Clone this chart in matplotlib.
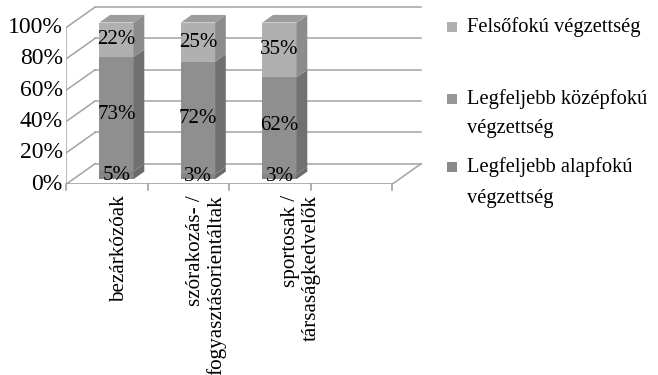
import matplotlib
matplotlib.use("Agg")
import matplotlib.pyplot as plt
from matplotlib.patches import Polygon, Rectangle

plt.rcParams['font.family'] = ['Liberation Serif', 'DejaVu Serif']

categories = ["bezárkózóak",
              "szórakozás- /\nfogyasztásorientáltak",
              "sportosak /\ntársaságkedvelők"]
alapfoku = [5, 3, 3]
kozepfoku = [73, 72, 62]
felsofoku = [22, 25, 35]
yticks = [0, 20, 40, 60, 80, 100]

legend_lines = [["Felsőfokú végzettség"],
                ["Legfeljebb középfokú", "végzettség"],
                ["Legfeljebb alapfokú", "végzettség"]]

# front / side colours, bottom to top segment
FRONT = ["#858585", "#8f8f8f", "#b0b0b0"]
SIDE = ["#6a6a6a", "#717171", "#8c8c8c"]
TOP = "#9d9d9d"
LEGEND_COLORS = ["#b0b0b0", "#969696", "#8a8a8a"]
GRID = "#a3a3a3"

W, H = 658, 375
N_SLOTS = 4          # excel leaves an empty fourth slot on the axis
DX, DY = 0.356, 13.1  # full wall depth in data units
F0, F1 = 0.25, 0.62   # bar depth span (fraction of wall depth)
BAR_W = 0.42
LABEL_NUDGE = [0.16, 0.22, 0.38]

fig = plt.figure(figsize=(W / 100, H / 100), dpi=100)
ax = fig.add_axes([66 / W, 190.7 / H, 358.6 / W, 178.6 / H])
ax.set_xlim(0, 4.4)
ax.set_ylim(0, 114)
ax.axis("off")

# walls: back grid, left wall diagonals, floor
for v in yticks:
    ax.plot([DX, N_SLOTS + DX], [v + DY, v + DY], color=GRID, lw=1.1, zorder=1)
    ax.plot([0, DX], [v, v + DY], color=GRID, lw=1.1, zorder=1)
ax.plot([N_SLOTS, N_SLOTS + DX], [0, DY], color=GRID, lw=1.1, zorder=1)
ax.plot([0, N_SLOTS], [0, 0], color="#999999", lw=1.1, zorder=1)
ax.plot([0, 0], [0, 100], color="#a8a8a8", lw=1.1, zorder=1)
for k in range(N_SLOTS + 1):
    ax.plot([k, k], [0, -3.8], color="#999999", lw=1.1, zorder=1, clip_on=False)

for v in yticks:
    ax.text(-0.04, v, f"{v}%", ha="right", va="center", fontsize=17)

# stacked columns
series = [alapfoku, kozepfoku, felsofoku]
d = F1 - F0
for i in range(len(categories)):
    xc = i + 0.53 + F0 * DX
    xl, xr = xc - BAR_W / 2, xc + BAR_W / 2
    bottom = 0
    for s, vals in enumerate(series):
        h = vals[i]
        b = bottom + F0 * DY
        t = b + h
        ax.bar(xc, h, BAR_W, bottom=b, color=FRONT[s], lw=0, zorder=3)
        ax.add_patch(Polygon([(xr, b), (xr + d * DX, b + d * DY),
                              (xr + d * DX, t + d * DY), (xr, t)],
                             closed=True, color=SIDE[s], lw=0, zorder=3))
        if s == len(series) - 1:
            ax.add_patch(Polygon([(xl, t), (xr, t), (xr + d * DX, t + d * DY),
                                  (xl + d * DX, t + d * DY)],
                                 closed=True, color=TOP, lw=0, zorder=3))
        ax.text(xc, b + h / 2, f"{h}%", ha="center", va="center",
                fontsize=15, zorder=5)
        bottom += h

    ax.text(i + 0.5 + LABEL_NUDGE[i], -7.0, categories[i],
            rotation=90, ha="center", va="top", multialignment="right",
            linespacing=1.1, fontsize=15.2, clip_on=False)

# legend, placed by hand like excel's
def fpos(x, y):
    return x / W, 1 - y / H

entry_y = [[27], [99, 129], [167, 198]]
for k, lines in enumerate(legend_lines):
    sx, sy = fpos(447, entry_y[k][0] + 5)
    fig.patches.append(Rectangle((sx, sy), 10 / W, 10 / H, transform=fig.transFigure,
                                 color=LEGEND_COLORS[k], lw=0))
    for line, y in zip(lines, entry_y[k]):
        tx, ty = fpos(467, y)
        fig.text(tx, ty, line, ha="left", va="center", fontsize=14.8)

fig.savefig("out.png", dpi=100)
